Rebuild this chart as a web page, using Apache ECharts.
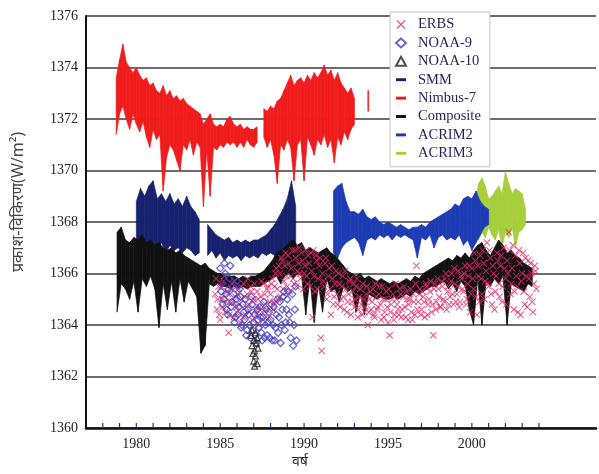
<!DOCTYPE html>
<html>
<head>
<meta charset="utf-8">
<script src="https://cdn.jsdelivr.net/npm/echarts@6/dist/echarts.min.js"></script>
<style>
  html, body { margin: 0; padding: 0; background: #fff; }
  #main { width: 599px; height: 474px; }
</style>
</head>
<body>
<div id="main"></div>
<script>
// tick / label years
var tickYears = [1978, 1979, 1980, 1981, 1982, 1983, 1984, 1985, 1986, 1987, 1988, 1989, 1990,
  1991, 1992, 1993, 1994, 1995, 1996, 1997, 1998, 1999, 2000, 2001, 2002, 2003, 2004];
var labelYears = [1980, 1985, 1990, 1995, 2000];

// Nimbus-7: samples every 0.2 yr from 1978.8, upper / lower envelope
var nimbusStart = 1978.8, nimbusStep = 0.2;
var nimbusHi = [1373.6, 1374.3, 1374.9, 1374.2, 1374.0, 1373.8, 1374.0, 1373.7, 1373.5, 1373.6,
  1373.3, 1373.4, 1373.1, 1373.0, 1373.3, 1372.9, 1373.1, 1372.8, 1372.9, 1372.7,
  1372.8, 1372.6, 1372.5, 1372.4, 1372.3, 1372.2, 1371.8, 1372.0, 1372.2, 1371.8,
  1371.7, 1371.8, 1371.7, 1372.0, 1372.1, 1371.8, 1371.7, 1371.8, 1371.6, 1371.7,
  1371.6, 1371.6, 1371.7, null, 1372.4, 1372.3, 1372.5, 1372.4, 1372.7, 1372.8,
  1373.1, 1373.4, 1373.7, 1373.3, 1373.5, 1373.6, 1373.4, 1373.7, 1373.5, 1373.8,
  1373.6, 1373.8, 1374.1, 1373.7, 1373.9, 1373.5, 1373.8, 1373.4, 1373.2, 1373.0,
  1373.2, 1372.8, null, null, null, 1373.1];
var nimbusLo = [1371.4, 1372.2, 1372.5, 1372.0, 1371.6, 1372.2, 1371.8, 1371.5, 1371.9, 1371.3,
  1370.9, 1371.6, 1371.2, 1371.4, 1369.2, 1370.5, 1371.0, 1370.8, 1370.4, 1370.0,
  1371.0, 1370.8, 1371.2, 1370.6, 1371.1, 1370.9, 1368.6, 1370.8, 1369.0, 1370.9,
  1370.8, 1371.0, 1370.9, 1371.1, 1371.0, 1371.1, 1370.9, 1371.1, 1370.9, 1371.2,
  1371.0, 1370.9, 1371.1, null, 1371.3, 1370.9, 1371.2, 1370.6, 1369.5, 1371.0,
  1370.8, 1371.2, 1370.9, 1369.6, 1371.0, 1371.2, 1369.6, 1371.3, 1371.0, 1370.6,
  1371.2, 1371.0, 1371.4, 1370.9, 1371.2, 1370.3, 1371.3, 1371.0, 1371.5, 1371.2,
  1371.6, 1371.8, null, null, null, 1372.3];

// SMM (ACRIM1): every 0.25 yr from 1980.0
var smmStart = 1980.0, smmStep = 0.25;
var smmHi = [1368.8, 1369.3, 1369.0, 1369.4, 1369.6, 1368.9, 1369.1, 1368.8, 1369.1, 1368.7,
  1368.9, 1368.6, 1369.0, 1368.6, 1368.4, 1368.1, null, 1367.9, 1367.7, 1367.5,
  1367.4, 1367.3, 1367.4, 1367.2, 1367.3, 1367.2, 1367.3, 1367.2, 1367.3, 1367.3,
  1367.4, 1367.5, 1367.7, 1367.9, 1368.2, 1368.5, 1368.9, 1369.6, 1368.6];
var smmLo = [1367.0, 1366.8, 1367.2, 1366.9, 1367.1, 1366.9, 1367.2, 1366.8, 1367.1, 1366.9,
  1367.0, 1366.8, 1367.0, 1366.9, 1366.7, 1366.8, null, 1366.7, 1366.9, 1366.6,
  1366.8, 1366.5, 1366.7, 1366.6, 1366.7, 1366.5, 1366.7, 1366.6, 1366.7, 1366.6,
  1366.8, 1366.7, 1366.8, 1366.7, 1366.8, 1366.6, 1366.7, 1366.6, 1366.9];

// ACRIM2: every 0.25 yr from 1991.75
var acrim2Start = 1991.75, acrim2Step = 0.25;
var acrim2Hi = [1369.2, 1369.4, 1369.5, 1368.8, 1368.4, 1368.4, 1368.3, 1368.5, 1368.2, 1368.1,
  1368.2, 1368.0, 1367.9, 1368.0, 1367.9, 1367.8, 1367.9, 1367.8, 1367.7, 1367.8,
  1367.8, 1367.9, 1367.8, 1368.0, 1368.1, 1368.2, 1368.3, 1368.4, 1368.5, 1368.7,
  1368.6, 1368.9, 1369.0, 1368.9, 1369.2, 1368.8, 1368.6, 1368.5];
var acrim2Lo = [1366.8, 1366.6, 1367.0, 1367.2, 1367.3, 1367.4, 1367.2, 1366.7, 1367.3, 1367.4,
  1367.3, 1367.5, 1367.4, 1367.5, 1367.3, 1367.5, 1367.4, 1367.5, 1367.4, 1367.3,
  1366.6, 1367.4, 1367.3, 1367.5, 1367.0, 1367.4, 1367.5, 1367.3, 1367.4, 1367.3,
  1367.5, 1367.1, 1367.3, 1366.9, 1367.2, 1367.5, 1367.8, 1367.9];

// ACRIM3: every 0.2 yr from 2000.2
var acrim3Start = 2000.2, acrim3Step = 0.2;
var acrim3Hi = [1368.8, 1369.5, 1369.7, 1369.4, 1368.9, 1369.0, 1369.2, 1369.4, 1369.1, 1369.95,
  1369.5, 1369.1, 1369.3, 1369.2, 1369.1, 1368.5];
var acrim3Lo = [1367.5, 1367.3, 1367.6, 1367.4, 1367.8, 1367.5, 1367.3, 1367.7, 1367.0, 1367.6,
  1367.4, 1367.8, 1367.0, 1367.6, 1367.7, 1367.9];

// Composite: every 0.25 yr from 1978.85
var compStart = 1978.85, compStep = 0.25;
var compHi = [1367.6, 1367.8, 1367.3, 1367.2, 1367.4, 1367.3, 1367.5, 1367.2, 1367.3, 1367.1,
  1367.2, 1367.0, 1366.9, 1367.0, 1366.8, 1366.9, 1366.7, 1366.6, 1366.5, 1366.4,
  1366.3, 1366.4, 1366.2, 1366.1, 1366.0, 1366.0, 1365.9, 1365.9, 1365.9, 1365.8,
  1365.9, 1365.8, 1365.9, 1365.9, 1366.0, 1366.1, 1366.3, 1366.5, 1366.8, 1366.9,
  1367.0, 1367.2, 1367.3, 1367.1, 1367.2, 1366.9, 1367.0, 1366.9, 1366.8, 1366.9,
  1367.0, 1366.8, 1366.7, 1366.5, 1366.3, 1366.1, 1366.0, 1365.9, 1366.0, 1365.8,
  1365.9, 1365.8, 1365.7, 1365.8, 1365.7, 1365.6, 1365.7, 1365.6, 1365.7, 1365.8,
  1365.7, 1365.9, 1365.8, 1366.0, 1366.1, 1366.2, 1366.3, 1366.4, 1366.5, 1366.6,
  1366.5, 1366.7, 1366.6, 1366.8, 1366.6, 1366.9, 1367.1, 1367.2, 1366.9, 1366.7,
  1367.0, 1367.3, 1367.1, 1366.8, 1366.9, 1366.7, 1366.6, 1366.4, 1366.3, 1366.2];
var compLo = [1364.5, 1365.6, 1365.4, 1365.0, 1365.7, 1364.5, 1365.8, 1365.5, 1365.9, 1365.4,
  1363.9, 1365.6, 1364.6, 1365.7, 1364.5, 1365.8, 1364.9, 1365.7, 1365.4, 1365.1,
  1362.9, 1363.2, 1365.6, 1365.5, 1365.6, 1365.5, 1365.5, 1365.4, 1365.5, 1365.4,
  1365.5, 1365.4, 1365.5, 1365.5, 1365.5, 1365.6, 1365.7, 1365.8, 1365.9, 1365.6,
  1365.9, 1366.0, 1365.8, 1366.0, 1365.9, 1364.4, 1365.8, 1364.1, 1365.6, 1364.5,
  1365.8, 1365.3, 1365.4, 1364.9, 1365.5, 1365.3, 1365.4, 1364.5, 1365.2, 1364.4,
  1365.2, 1365.1, 1365.0, 1365.1, 1365.0, 1365.0, 1365.1, 1365.0, 1365.1, 1365.2,
  1365.1, 1365.3, 1365.2, 1365.3, 1365.4, 1365.5, 1365.5, 1365.6, 1365.7, 1365.4,
  1365.6, 1365.3, 1365.7, 1365.5, 1364.6, 1364.0, 1365.8, 1364.0, 1365.7, 1365.5,
  1365.8, 1365.6, 1365.9, 1364.0, 1365.6, 1365.5, 1365.4, 1365.3, 1365.6, 1365.5];

// ERBS points [year, W/m2]
var erbs = [
  [1984.7, 1365.2], [1984.8, 1364.6], [1984.9, 1365.5], [1985.0, 1364.2], [1985.1, 1365.0],
  [1985.2, 1365.7], [1985.3, 1364.5], [1985.4, 1365.3], [1985.5, 1363.7], [1985.6, 1364.9],
  [1985.7, 1365.6], [1985.8, 1364.3], [1985.9, 1365.1], [1986.0, 1364.7], [1986.1, 1365.4],
  [1986.2, 1364.1], [1986.3, 1365.0], [1986.4, 1365.6], [1986.5, 1364.4], [1986.6, 1365.2],
  [1986.7, 1364.8], [1986.8, 1365.5], [1986.9, 1364.2], [1987.0, 1365.0], [1987.1, 1364.6],
  [1987.2, 1365.3], [1987.3, 1364.0], [1987.4, 1365.1], [1987.5, 1364.5], [1987.6, 1365.6],
  [1987.7, 1364.8], [1987.8, 1365.4], [1987.9, 1364.3], [1988.0, 1365.2], [1988.1, 1365.8],
  [1988.2, 1364.9], [1988.3, 1366.0], [1988.4, 1365.4], [1988.5, 1366.3], [1988.6, 1365.1],
  [1988.7, 1366.5], [1988.8, 1365.7], [1988.9, 1366.8], [1989.0, 1365.5], [1989.1, 1366.4],
  [1989.2, 1365.9], [1989.3, 1366.9], [1989.4, 1365.6], [1989.5, 1366.6], [1989.6, 1366.1],
  [1989.7, 1367.0], [1989.8, 1365.8], [1989.9, 1366.5], [1990.0, 1366.0], [1990.1, 1366.9],
  [1990.2, 1365.6], [1990.3, 1366.4], [1990.4, 1366.8], [1990.5, 1364.3], [1990.6, 1365.9],
  [1990.7, 1366.7], [1990.8, 1365.4], [1990.9, 1366.3], [1991.0, 1363.5], [1991.05, 1363.0],
  [1991.1, 1366.0], [1991.2, 1365.5], [1991.3, 1366.6], [1991.4, 1365.2], [1991.5, 1366.2],
  [1991.6, 1364.4], [1991.7, 1365.8], [1991.8, 1365.1], [1991.9, 1366.1], [1992.0, 1364.8],
  [1992.1, 1365.6], [1992.2, 1365.0], [1992.3, 1365.9], [1992.4, 1364.6], [1992.5, 1365.4],
  [1992.6, 1364.9], [1992.7, 1365.7], [1992.8, 1364.4], [1992.9, 1365.3], [1993.0, 1364.7],
  [1993.1, 1365.5], [1993.2, 1364.3], [1993.3, 1365.1], [1993.4, 1364.8], [1993.5, 1365.6],
  [1993.6, 1364.5], [1993.7, 1365.2], [1993.8, 1364.0], [1993.9, 1365.0], [1994.0, 1364.6],
  [1994.1, 1365.4], [1994.2, 1364.3], [1994.3, 1365.1], [1994.4, 1364.7], [1994.5, 1365.5],
  [1994.6, 1364.2], [1994.7, 1365.0], [1994.8, 1364.5], [1994.9, 1365.3], [1995.0, 1364.1],
  [1995.1, 1363.6], [1995.2, 1364.8], [1995.3, 1365.2], [1995.4, 1364.4], [1995.5, 1365.0],
  [1995.6, 1364.6], [1995.7, 1365.4], [1995.8, 1364.3], [1995.9, 1365.1], [1996.0, 1364.7],
  [1996.1, 1365.3], [1996.2, 1364.2], [1996.3, 1365.0], [1996.4, 1364.5], [1996.5, 1365.2],
  [1996.6, 1364.4], [1996.7, 1366.3], [1996.8, 1364.9], [1996.9, 1365.4], [1997.0, 1364.6],
  [1997.1, 1365.1], [1997.2, 1364.3], [1997.3, 1365.5], [1997.4, 1364.8], [1997.5, 1365.3],
  [1997.6, 1364.5], [1997.7, 1363.6], [1997.8, 1365.6], [1997.9, 1364.9], [1998.0, 1365.4],
  [1998.1, 1364.7], [1998.2, 1365.7], [1998.3, 1365.0], [1998.4, 1365.8], [1998.5, 1364.6],
  [1998.6, 1365.5], [1998.7, 1365.1], [1998.8, 1366.0], [1998.9, 1364.8], [1999.0, 1365.6],
  [1999.1, 1365.2], [1999.2, 1366.1], [1999.3, 1364.9], [1999.4, 1365.8], [1999.5, 1365.3],
  [1999.6, 1366.3], [1999.7, 1365.0], [1999.8, 1365.9], [1999.9, 1364.5], [2000.0, 1366.2],
  [2000.1, 1365.4], [2000.2, 1366.5], [2000.3, 1364.4], [2000.4, 1365.9], [2000.5, 1366.7],
  [2000.6, 1365.2], [2000.7, 1366.4], [2000.8, 1365.7], [2000.9, 1367.2], [2001.0, 1365.5],
  [2001.1, 1366.6], [2001.2, 1364.8], [2001.3, 1366.0], [2001.4, 1365.3], [2001.5, 1366.8],
  [2001.6, 1365.6], [2001.7, 1366.3], [2001.8, 1364.9], [2001.9, 1367.0], [2002.0, 1365.8],
  [2002.1, 1366.5], [2002.2, 1367.6], [2002.3, 1365.2], [2002.4, 1366.2], [2002.5, 1364.6],
  [2002.6, 1366.7], [2002.7, 1365.5], [2002.8, 1366.9], [2002.9, 1364.4], [2003.0, 1366.0],
  [2003.1, 1365.3], [2003.2, 1366.6], [2003.3, 1364.7], [2003.4, 1365.8], [2003.5, 1366.4],
  [2003.6, 1364.9], [2003.7, 1365.6], [2003.8, 1366.1],
  [1984.75, 1365.8], [1984.85, 1365.0], [1984.95, 1364.4], [1985.05, 1365.5], [1985.15, 1364.7],
  [1985.25, 1365.9], [1985.35, 1364.9], [1985.45, 1365.2], [1985.55, 1364.4], [1985.65, 1365.4],
  [1985.75, 1364.9], [1985.85, 1365.7], [1985.95, 1364.5], [1986.05, 1365.2], [1986.15, 1364.8],
  [1986.25, 1365.5], [1986.35, 1364.3], [1986.45, 1365.1], [1986.55, 1364.7], [1986.65, 1365.8],
  [1986.75, 1364.5], [1986.85, 1365.3], [1986.95, 1364.9], [1987.05, 1365.6], [1987.15, 1364.4],
  [1987.25, 1365.0], [1987.35, 1364.7], [1987.45, 1365.7], [1987.55, 1364.2], [1987.65, 1365.2],
  [1987.75, 1364.6], [1987.85, 1365.5], [1987.95, 1364.9], [1988.05, 1365.6], [1988.15, 1364.6],
  [1988.25, 1365.5], [1988.35, 1366.2], [1988.45, 1365.0], [1988.55, 1366.0], [1988.65, 1366.6],
  [1988.75, 1365.4], [1988.85, 1366.3], [1988.95, 1365.9], [1989.05, 1366.7], [1989.15, 1365.3],
  [1989.25, 1366.2], [1989.35, 1365.8], [1989.45, 1366.9], [1989.55, 1365.5], [1989.65, 1366.4],
  [1989.75, 1366.0], [1989.85, 1366.8], [1989.95, 1365.4], [1990.05, 1366.3], [1990.15, 1365.9],
  [1990.25, 1366.7], [1990.35, 1365.5], [1990.45, 1366.1], [1990.55, 1366.9], [1990.65, 1365.3],
  [1990.75, 1366.5], [1990.85, 1365.8], [1990.95, 1366.6], [1991.15, 1365.7], [1991.25, 1366.4],
  [1991.35, 1365.0], [1991.45, 1365.9], [1991.55, 1365.4], [1991.65, 1366.3], [1991.75, 1364.8],
  [1991.85, 1365.6], [1991.95, 1365.2], [1992.05, 1366.0], [1992.15, 1364.7], [1992.25, 1365.5],
  [1992.35, 1365.1], [1992.45, 1366.1], [1992.55, 1364.5], [1992.65, 1365.2], [1992.75, 1365.8],
  [1992.85, 1364.9], [1992.95, 1365.6], [1993.05, 1365.0], [1993.15, 1365.8], [1993.25, 1364.6],
  [1993.35, 1365.4], [1993.45, 1364.4], [1993.55, 1365.0], [1993.65, 1364.7], [1993.75, 1365.5],
  [1993.85, 1364.5], [1993.95, 1365.3], [1994.05, 1364.9], [1994.15, 1364.4], [1994.25, 1365.6],
  [1994.35, 1364.6], [1994.45, 1365.2], [1994.55, 1364.8], [1994.65, 1365.5], [1994.75, 1364.3],
  [1994.85, 1365.0], [1994.95, 1364.7], [1995.05, 1365.4], [1995.15, 1364.5], [1995.25, 1365.0],
  [1995.35, 1364.2], [1995.45, 1365.6], [1995.55, 1364.8], [1995.65, 1364.4], [1995.75, 1365.2],
  [1995.85, 1364.6], [1995.95, 1365.5], [1996.05, 1364.3], [1996.15, 1365.0], [1996.25, 1364.8],
  [1996.35, 1365.4], [1996.45, 1364.2], [1996.55, 1364.9], [1996.65, 1365.6], [1996.75, 1364.6],
  [1996.85, 1365.2], [1996.95, 1364.4], [1997.05, 1365.3], [1997.15, 1364.9], [1997.25, 1365.6],
  [1997.35, 1364.4], [1997.45, 1365.0], [1997.55, 1365.7], [1997.65, 1364.8], [1997.75, 1365.4],
  [1997.85, 1364.6], [1997.95, 1365.8], [1998.05, 1365.1], [1998.15, 1364.7], [1998.25, 1365.5],
  [1998.35, 1364.9], [1998.45, 1366.0], [1998.55, 1365.3], [1998.65, 1364.8], [1998.75, 1365.7],
  [1998.85, 1365.2], [1998.95, 1366.2], [1999.05, 1364.9], [1999.15, 1365.5], [1999.25, 1364.7],
  [1999.35, 1365.9], [1999.45, 1365.4], [1999.55, 1366.0], [1999.65, 1364.8], [1999.75, 1365.6],
  [1999.85, 1366.3], [1999.95, 1365.2], [2000.05, 1365.8], [2000.15, 1366.8], [2000.25, 1365.1],
  [2000.35, 1366.3], [2000.45, 1364.9], [2000.55, 1365.8], [2000.65, 1366.9], [2000.75, 1365.0],
  [2000.85, 1366.1], [2000.95, 1365.6], [2001.05, 1366.9], [2001.15, 1365.2], [2001.25, 1366.3],
  [2001.35, 1364.6], [2001.45, 1365.9], [2001.55, 1366.5], [2001.65, 1365.1], [2001.75, 1366.7],
  [2001.85, 1365.5], [2001.95, 1366.2], [2002.05, 1364.8], [2002.15, 1366.0], [2002.25, 1366.9],
  [2002.35, 1365.6], [2002.45, 1367.1], [2002.55, 1365.3], [2002.65, 1365.9], [2002.75, 1364.5],
  [2002.85, 1366.4], [2002.95, 1365.7], [2003.05, 1366.8], [2003.15, 1364.8], [2003.25, 1365.9],
  [2003.35, 1366.5], [2003.45, 1365.1], [2003.55, 1366.0], [2003.65, 1364.5], [2003.75, 1366.3],
  [2003.85, 1365.4]
];

// NOAA-9 points
var noaa9 = [
  [1985.0, 1366.2], [1985.1, 1365.6], [1985.2, 1365.0], [1985.3, 1366.0], [1985.4, 1364.6],
  [1985.5, 1365.4], [1985.6, 1366.3], [1985.7, 1364.9], [1985.8, 1365.2], [1985.9, 1364.3],
  [1986.0, 1365.7], [1986.1, 1364.7], [1986.2, 1365.1], [1986.3, 1364.0], [1986.4, 1364.5],
  [1986.5, 1365.0], [1986.6, 1363.8], [1986.7, 1364.4], [1986.8, 1363.5], [1986.9, 1364.8],
  [1987.0, 1364.1], [1987.1, 1363.6], [1987.2, 1364.6], [1987.3, 1363.9], [1987.4, 1364.3],
  [1987.5, 1363.4], [1987.6, 1364.9], [1987.7, 1364.0], [1987.8, 1363.6], [1987.9, 1364.5],
  [1988.0, 1364.2], [1988.1, 1363.4], [1988.2, 1364.7], [1988.3, 1363.9], [1988.4, 1365.0],
  [1988.5, 1364.3], [1988.6, 1363.3], [1988.7, 1364.6], [1988.8, 1365.3], [1988.9, 1364.1],
  [1989.0, 1365.0], [1989.1, 1364.4], [1989.2, 1363.5], [1989.3, 1365.2], [1989.4, 1364.0],
  [1989.5, 1365.5],
  [1985.05, 1365.3], [1985.15, 1364.8], [1985.25, 1366.4], [1985.35, 1365.2], [1985.45, 1364.4],
  [1985.55, 1365.8], [1985.65, 1364.7], [1985.75, 1365.5], [1985.85, 1364.1], [1985.95, 1365.0],
  [1986.05, 1364.4], [1986.15, 1365.4], [1986.25, 1363.9], [1986.35, 1364.8], [1986.45, 1364.2],
  [1986.55, 1363.6], [1986.65, 1364.6], [1986.75, 1364.0], [1986.85, 1365.1], [1986.95, 1363.8],
  [1987.05, 1364.4], [1987.15, 1363.3], [1987.25, 1364.2], [1987.35, 1364.7], [1987.45, 1363.7],
  [1987.55, 1364.3], [1987.65, 1363.5], [1987.75, 1364.6], [1987.85, 1364.1], [1987.95, 1363.5],
  [1988.05, 1364.8], [1988.15, 1364.0], [1988.25, 1363.4], [1988.35, 1364.4], [1988.45, 1363.7],
  [1988.55, 1364.9], [1988.65, 1364.0], [1988.75, 1365.1], [1988.85, 1363.8], [1988.95, 1364.6],
  [1989.05, 1365.3], [1989.15, 1364.1], [1989.35, 1363.2], [1989.45, 1364.6], [1989.55, 1363.4]
];

// NOAA-10 points
var noaa10 = [
  [1986.85, 1363.6], [1986.9, 1363.2], [1986.95, 1362.9], [1987.0, 1363.4], [1987.0, 1362.6],
  [1987.05, 1363.0], [1987.1, 1363.7], [1987.1, 1362.8], [1987.15, 1363.3], [1987.2, 1362.5],
  [1987.2, 1363.5], [1987.25, 1363.1], [1986.9, 1363.8], [1987.05, 1362.4]
];

// envelope -> segments [t1, hi1, lo1, t2, hi2, lo2] between neighbouring samples;
// a lone sample gets a narrow stick of its own
function segments(start, step, hi, lo) {
  var out = [];
  for (var i = 0; i < hi.length; i++) {
    if (hi[i] == null) continue;
    var t = start + i * step;
    if (i + 1 < hi.length && hi[i + 1] != null) {
      out.push([t, hi[i], lo[i], t + step, hi[i + 1], lo[i + 1]]);
    } else if (i === 0 || hi[i - 1] == null) {
      out.push([t, hi[i], lo[i], t + step * 0.25, hi[i], lo[i]]);
    }
  }
  return out;
}

var crossPath = 'path://M0,1L1,0L5,4L9,0L10,1L6,5L10,9L9,10L5,6L1,10L0,9L4,5Z';
var dashPath = 'path://M0,0h12v3.5h-12z';
var serif = '"Liberation Serif", "DejaVu Serif", serif';

function band(name, color, data, z) {
  return {
    name: name, type: 'custom', data: data, z: z, animation: false, silent: true,
    itemStyle: { color: color },
    encode: { x: [0, 3], y: [1, 2, 4, 5] },
    renderItem: function (params, api) {
      var a = api.coord([api.value(0), api.value(1)]);
      var b = api.coord([api.value(3), api.value(4)]);
      var c = api.coord([api.value(3), api.value(5)]);
      var d = api.coord([api.value(0), api.value(2)]);
      return {
        type: 'polygon',
        shape: { points: [a, b, c, d] },
        style: { fill: color, stroke: color, lineWidth: 0.7 }
      };
    }
  };
}

var chart = echarts.init(document.getElementById('main'));
var option = {
  animation: false,
  grid: { left: 86, right: 0, top: 16, bottom: 46 },
  xAxis: {
    type: 'value', min: 1977, max: 2007.4, interval: 1,
    axisLine: { lineStyle: { color: '#111', width: 2.5 } },
    axisTick: { show: false },
    splitLine: { show: false },
    axisLabel: {
      formatter: function (v) { return labelYears.indexOf(v) >= 0 ? String(v) : ''; },
      fontFamily: serif, fontSize: 14, color: '#222', margin: 9
    }
  },
  yAxis: {
    type: 'value', min: 1360, max: 1376, interval: 2,
    axisLine: { show: true, lineStyle: { color: '#111', width: 2 } },
    axisTick: { show: false },
    splitLine: { lineStyle: { color: '#3c3c3c', width: 1.6 } },
    axisLabel: {
      formatter: function (v) { return String(v); },
      fontFamily: serif, fontSize: 14, color: '#222', margin: 8
    }
  },
  legend: {
    orient: 'vertical', left: 390, top: 12,
    padding: [5, 9, 6, 5], itemGap: 3.4, itemWidth: 10, itemHeight: 9,
    backgroundColor: '#fff', borderColor: '#c4c4c4', borderWidth: 1,
    textStyle: { fontFamily: serif, fontSize: 14.5, color: '#2a1d5a', padding: [0, 0, 0, 7] },
    data: [
      { name: 'ERBS', icon: crossPath },
      { name: 'NOAA-9', icon: 'diamond' },
      { name: 'NOAA-10', icon: 'triangle' },
      { name: 'SMM', icon: dashPath },
      { name: 'Nimbus-7', icon: dashPath },
      { name: 'Composite', icon: dashPath },
      { name: 'ACRIM2', icon: dashPath },
      { name: 'ACRIM3', icon: dashPath }
    ]
  },
  graphic: [
    {
      type: 'text', x: 18, y: 202, rotation: Math.PI / 2,
      style: {
        text: 'प्रकाश-विकिरण(W/m²)', font: '16px "Noto Sans", sans-serif', fill: '#444',
        textAlign: 'center', textVerticalAlign: 'middle'
      }
    },
    {
      type: 'text', left: 292, top: 455,
      style: { text: 'वर्ष', font: '14px "Noto Sans", sans-serif', fill: '#333' }
    }
  ],
  series: [
    band('Nimbus-7', '#f01c1c', segments(nimbusStart, nimbusStep, nimbusHi, nimbusLo), 2),
    band('SMM', '#17226e', segments(smmStart, smmStep, smmHi, smmLo), 3),
    band('ACRIM3', '#a6cf3c', segments(acrim3Start, acrim3Step, acrim3Hi, acrim3Lo), 3),
    band('ACRIM2', '#1d3cb4', segments(acrim2Start, acrim2Step, acrim2Hi, acrim2Lo), 4),
    band('Composite', '#111111', segments(compStart, compStep, compHi, compLo), 5),
    {
      name: 'ERBS', type: 'scatter', data: erbs, symbol: crossPath, symbolSize: 7, z: 6,
      itemStyle: { color: '#e3296b' }, animation: false
    },
    {
      name: 'NOAA-9', type: 'scatter', data: noaa9, symbol: 'diamond', symbolSize: 7, z: 7,
      itemStyle: { color: 'rgba(0,0,0,0)', borderColor: '#4540c4', borderWidth: 1.3 },
      animation: false
    },
    {
      name: 'NOAA-10', type: 'scatter', data: noaa10, symbol: 'triangle', symbolSize: 6, z: 8,
      itemStyle: { color: 'rgba(0,0,0,0)', borderColor: '#222', borderWidth: 1.2 },
      animation: false
    },
    {
      name: 'ticks', type: 'custom', silent: true, z: 9, animation: false,
      data: tickYears.map(function (y) { return [y]; }),
      renderItem: function (params, api) {
        var p = api.coord([api.value(0), 1360]);
        return {
          type: 'line',
          shape: { x1: p[0], y1: p[1] - 1, x2: p[0], y2: p[1] - 5 },
          style: { stroke: '#1f3a8a', lineWidth: 1.2 }
        };
      }
    }
  ]
};
chart.setOption(option);
</script>
</body>
</html>
